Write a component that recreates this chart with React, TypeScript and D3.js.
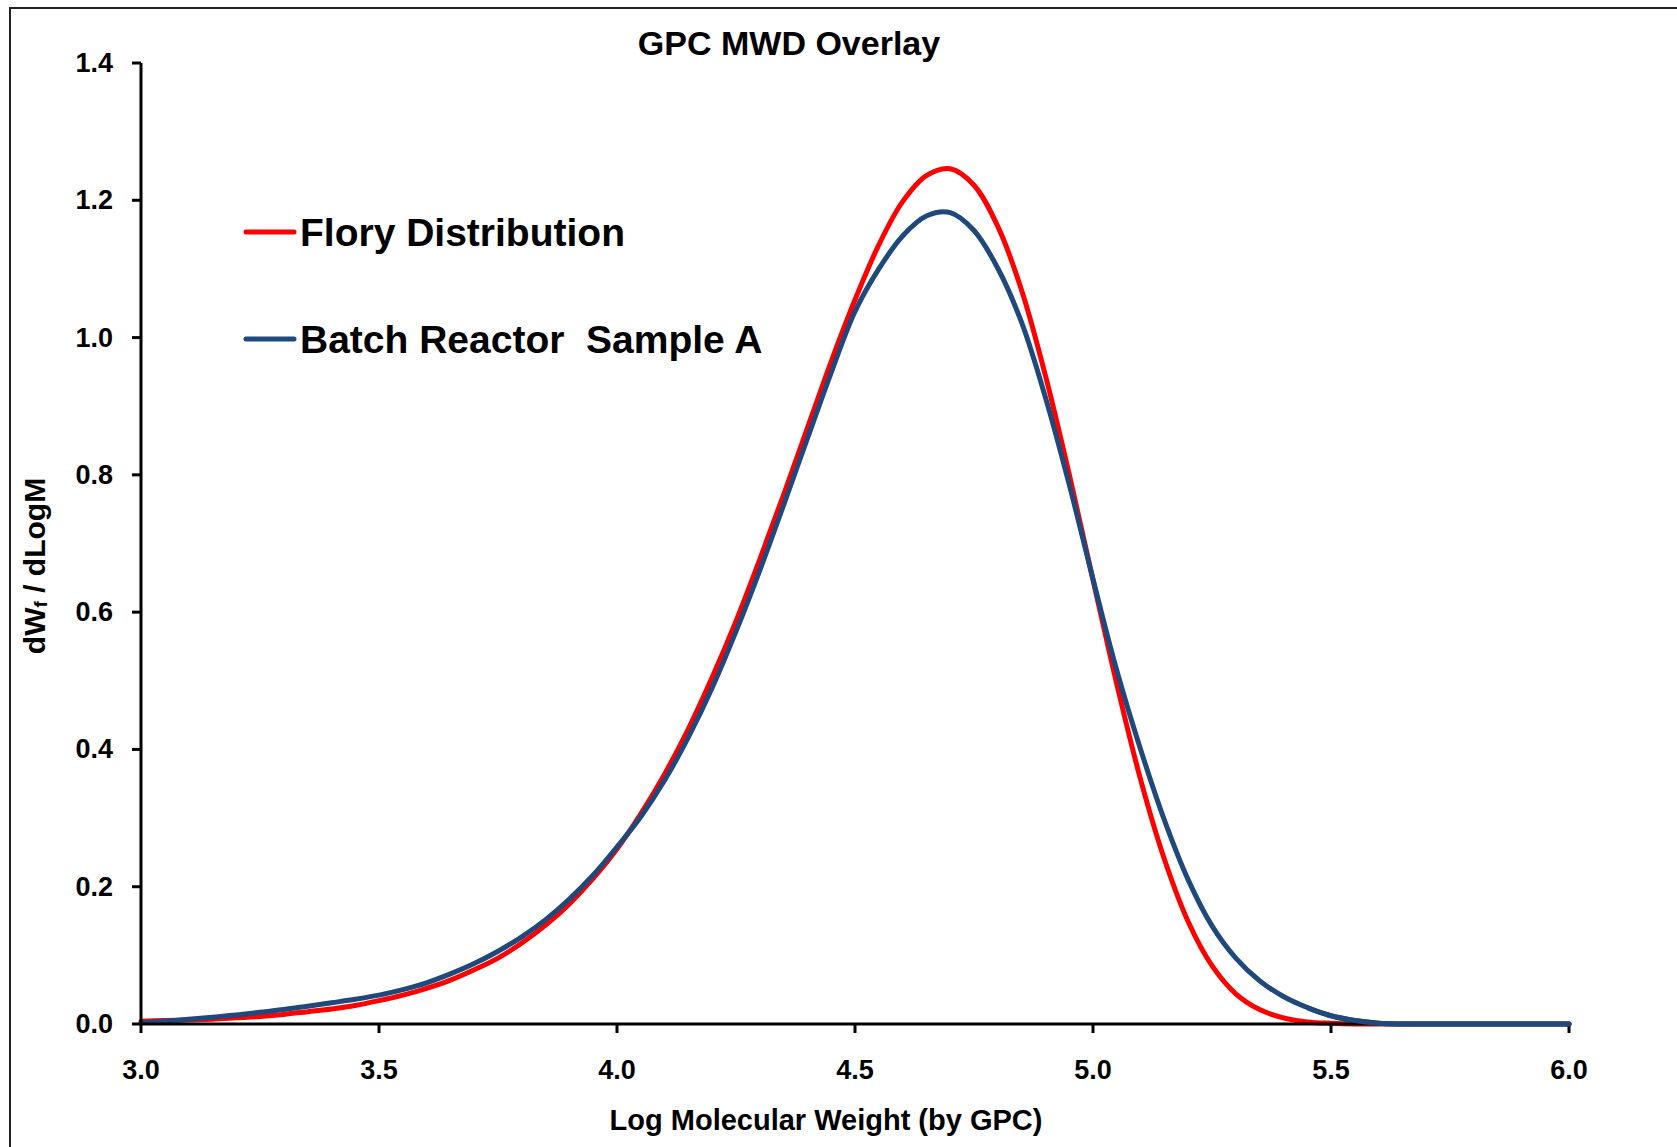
import React from "react";
import * as d3 from "d3";

const logM = [
  3.0, 3.05, 3.1, 3.15, 3.2, 3.25, 3.3, 3.35, 3.4, 3.45, 3.5, 3.55, 3.6, 3.65, 3.7, 3.75, 3.8, 3.85, 3.9, 3.95,
  4.0, 4.05, 4.1, 4.15, 4.2, 4.25, 4.3, 4.35, 4.4, 4.45, 4.5, 4.55, 4.6, 4.65, 4.7, 4.75, 4.8, 4.85, 4.9, 4.95,
  5.0, 5.05, 5.1, 5.15, 5.2, 5.25, 5.3, 5.35, 5.4, 5.45, 5.5, 5.55, 5.6, 5.65, 5.7, 5.75, 5.8, 5.85, 5.9, 5.95, 6.0,
];

const flory = [
  0.004, 0.005, 0.006, 0.007, 0.009, 0.011, 0.014, 0.018, 0.022, 0.027, 0.034, 0.042, 0.052, 0.064, 0.079, 0.096, 0.118, 0.144, 0.175, 0.212,
  0.255, 0.306, 0.364, 0.43, 0.505, 0.587, 0.677, 0.771, 0.868, 0.965, 1.055, 1.135, 1.198, 1.236, 1.246, 1.222, 1.162, 1.069, 0.945, 0.801,
  0.647, 0.495, 0.356, 0.24, 0.149, 0.085, 0.044, 0.021, 0.009, 0.003, 0.001, 0, 0, 0, 0, 0, 0, 0, 0, 0, 0,
];

const batchA = [
  0.002, 0.004, 0.007, 0.01, 0.013, 0.017, 0.021, 0.026, 0.031, 0.036, 0.042, 0.05, 0.06, 0.073, 0.088, 0.106, 0.127, 0.152, 0.182, 0.217,
  0.258, 0.302, 0.355, 0.418, 0.49, 0.572, 0.661, 0.756, 0.853, 0.949, 1.038, 1.1, 1.148, 1.177, 1.182, 1.156, 1.101, 1.022, 0.913, 0.786,
  0.648, 0.515, 0.4, 0.297, 0.21, 0.143, 0.096, 0.063, 0.04, 0.024, 0.012, 0.005, 0.001, 0, 0, 0, 0, 0, 0, 0, 0,
];

const xTicks = [3.0, 3.5, 4.0, 4.5, 5.0, 5.5, 6.0];
const yTicks = [0.0, 0.2, 0.4, 0.6, 0.8, 1.0, 1.2, 1.4];

const seriesNames = ["Flory Distribution", "Batch Reactor  Sample A"];
const seriesColors = ["#FF0000", "#1F497D"];

const W = 1677;
const H = 1147;
const FONT = "'Liberation Sans', Arial, sans-serif";

export default function App() {
  const x = d3.scaleLinear().domain([3, 6]).range([141, 1569]);
  const y = d3.scaleLinear().domain([0, 1.4]).range([1024, 63]);

  const line = d3
    .line<number>()
    .x((_, i) => x(logM[i]))
    .y((d) => Math.min(y(d), y(0)))
    .curve(d3.curveCatmullRom.alpha(0.5));

  const series = [flory, batchA];

  return (
    <svg
      width={W}
      height={H}
      style={{ position: "absolute", left: 0, top: 0, background: "#fff" }}
    >
      <defs>
        <clipPath id="plotclip">
          <rect x={x(3) - 4} y={0} width={x(6) - x(3) + 8} height={y(0) + 3} />
        </clipPath>
        <clipPath id="tailclip">
          <rect x={x(5.45)} y={y(0.05)} width={x(6) - x(5.45) + 4} height={y(0) - y(0.05) + 6} />
        </clipPath>
      </defs>
      <rect x={0} y={0} width={W} height={H} fill="#fff" />
      <rect x={10} y={8} width={W + 20} height={H + 20} fill="none" stroke="#222" strokeWidth={2} />

      <text x={789} y={43} textAnchor="middle" dominantBaseline="central" fontFamily={FONT} fontWeight="bold" fontSize={34}>
        GPC MWD Overlay
      </text>

      {/* curves */}
      <g clipPath="url(#plotclip)">
        {series.map((s, k) => (
          <path
            key={k}
            d={line(s) || ""}
            fill="none"
            stroke={seriesColors[k]}
            strokeWidth={5}
            strokeLinejoin="round"
            strokeLinecap="round"
          />
        ))}
      </g>

      {/* y axis */}
      <line x1={x(3)} y1={y(0)} x2={x(3)} y2={y(1.4)} stroke="#000" strokeWidth={3} />
      {yTicks.map((t) => (
        <g key={"y" + t}>
          <line x1={x(3) - 9} x2={x(3)} y1={y(t)} y2={y(t)} stroke="#000" strokeWidth={3} />
          <text
            x={x(3) - 28}
            y={y(t)}
            textAnchor="end"
            dominantBaseline="central"
            fontFamily={FONT}
            fontWeight="bold"
            fontSize={27}
          >
            {t.toFixed(1)}
          </text>
        </g>
      ))}

      {/* x axis */}
      <line x1={x(3)} y1={y(0)} x2={x(6)} y2={y(0)} stroke="#000" strokeWidth={3} />
      {xTicks.map((t) => (
        <g key={"x" + t}>
          <line x1={x(t)} x2={x(t)} y1={y(0)} y2={y(0) + 9} stroke="#000" strokeWidth={3} />
          <text
            x={x(t)}
            y={y(0) + 46}
            textAnchor="middle"
            dominantBaseline="central"
            fontFamily={FONT}
            fontWeight="bold"
            fontSize={27}
          >
            {t.toFixed(1)}
          </text>
        </g>
      ))}

      {/* blue tail runs over the x axis baseline */}
      <path
        d={line(batchA) || ""}
        fill="none"
        stroke={seriesColors[1]}
        strokeWidth={5}
        strokeLinejoin="round"
        strokeLinecap="round"
        clipPath="url(#tailclip)"
      />

      <text x={826} y={1120} textAnchor="middle" dominantBaseline="central" fontFamily={FONT} fontWeight="bold" fontSize={29}>
        Log Molecular Weight (by GPC)
      </text>

      <text
        transform={`translate(34, 566) rotate(-90)`}
        textAnchor="middle"
        dominantBaseline="central"
        fontFamily={FONT}
        fontWeight="bold"
        fontSize={30}
      >
        dW<tspan fontSize={19} dy={6}>f</tspan>
        <tspan dy={-6}> / dLogM</tspan>
      </text>

      {/* legend */}
      {seriesNames.map((name, k) => (
        <g key={name}>
          <line
            x1={246}
            x2={294}
            y1={232 + k * 107}
            y2={232 + k * 107}
            stroke={seriesColors[k]}
            strokeWidth={5}
            strokeLinecap="round"
          />
          <text
            x={300}
            y={232 + k * 107}
            dominantBaseline="central"
            fontFamily={FONT}
            fontWeight="bold"
            fontSize={39}
            style={{ whiteSpace: "pre" }}
          >
            {name}
          </text>
        </g>
      ))}
    </svg>
  );
}
